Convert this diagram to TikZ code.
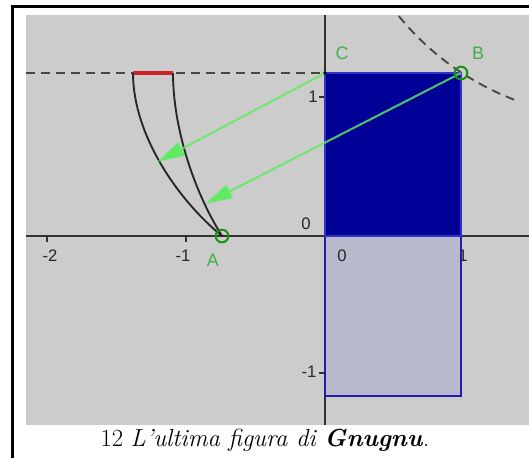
\documentclass[tikz,border=0pt]{standalone}
\usepackage{fontspec}
\newfontfamily\labfont{Liberation Sans}
\usetikzlibrary{arrows.meta}
\definecolor{bgray}{RGB}{204,204,204}
\definecolor{axisc}{RGB}{50,50,50}
\definecolor{navyf}{RGB}{0,0,150}
\definecolor{navye}{RGB}{50,50,200}
\definecolor{lightf}{RGB}{185,185,205}
\definecolor{lighte}{RGB}{30,30,170}
\definecolor{arrg}{RGB}{95,235,95}
\definecolor{ptg}{RGB}{20,150,20}
\definecolor{labg}{RGB}{70,175,70}
\definecolor{redseg}{RGB}{205,35,35}
\definecolor{dashc}{RGB}{70,70,70}
\tikzset{
  axisline/.style={axisc, line width=1.3pt},
  tickmark/.style={axisc, line width=1pt},
  numlab/.style={font=\labfont\fontsize{12.5}{14}\selectfont, text=black!85, inner sep=0pt},
  ptlab/.style={font=\labfont\fontsize{13.5}{15}\selectfont, text=labg, inner sep=0pt},
  dashline/.style={dashc, line width=1.4pt, dash pattern=on 6.75pt off 4.5pt},
  curveline/.style={black!85, line width=1.4pt},
  arr/.style={arrg, line width=1.6pt, draw opacity=0.8, -{Triangle[length=21pt,width=11pt]}},
  ptmark/.style={draw=ptg, line width=1.5pt, circle, minimum size=9.5pt, inner sep=0pt}
}
\begin{document}
\begin{tikzpicture}[x=0.75pt,y=-0.75pt]
\useasboundingbox (0,0) rectangle (529,458);
\fill[white] (0,0) rectangle (529,458);
% grey canvas
\fill[bgray] (26,15) rectangle (529,425);
% frame
\draw[black, line width=2.25pt] (12.5,458) |- (529,6.5);
% axes
\draw[axisline] (26,236) -- (529,236);
\draw[axisline] (325,15) -- (325,425);
% ticks
\foreach \tx in {47,186,461} \draw[tickmark] (\tx,236) -- (\tx,242);
\foreach \ty in {97,373} \draw[tickmark] (319,\ty) -- (325,\ty);
% tick labels
\node[numlab] (xm2) at (50,256) {-2};
\node[numlab] (xm1) at (183,256) {-1};
\node[numlab] (x1) at (463,256) {1};
\node[numlab] (y1) at (313,97) {1};
\node[numlab] (y0) at (306,224) {0};
\node[numlab] (ym1) at (309,372) {-1};
% rectangles
\filldraw[fill=lightf, draw=lighte, line width=1.3pt] (325,236) rectangle (461,396);
\filldraw[fill=navyf, draw=navye, line width=0.8pt] (325,73) rectangle (461,236);
\node[numlab] (x0) at (342,256) {0};
% dashed horizontal line
\draw[dashline] (26,73) -- (325,73);
% dashed curve
\begin{scope}
\clip (26,15) rectangle (529,425);
\draw[dashline] plot[domain=111:144, samples=60] ({613+276*cos(\x)}, {-158+276*sin(\x)});
\end{scope}
% points
\coordinate (A) at (222,236);
\coordinate (B) at (461,73);
\coordinate (C) at (325,73);
\coordinate (L) at (133,73);
\coordinate (R) at (173,73);
\coordinate (T1) at (157,162);
\coordinate (T2) at (205,204);
% red segment
\draw[redseg, line width=3pt] (L) -- (R);
% black curves
\draw[curveline] (A) .. controls (178,200) and (133,135) .. (L);
\draw[curveline] (A) .. controls (192,188) and (173,125) .. (R);
% arrows
\draw[arr] (C) -- (T1);
\draw[arr] (B) -- (T2);
% point marks
\fill[black] (C) circle (1.8);
\node[ptmark] (pA) at (A) {};
\node[ptmark] (pB) at (B) {};
\node[ptlab] (lC) at (342,53) {C};
\node[ptlab] (lB) at (478,53) {B};
\node[ptlab] (lA) at (213,260) {A};
% caption
\node[inner sep=0pt] (cap) at (265,440) {\fontsize{18.5}{22}\selectfont 12 \textit{L’ultima figura di} \textbf{\textit{Gnugnu}}.};
\end{tikzpicture}
\end{document}
